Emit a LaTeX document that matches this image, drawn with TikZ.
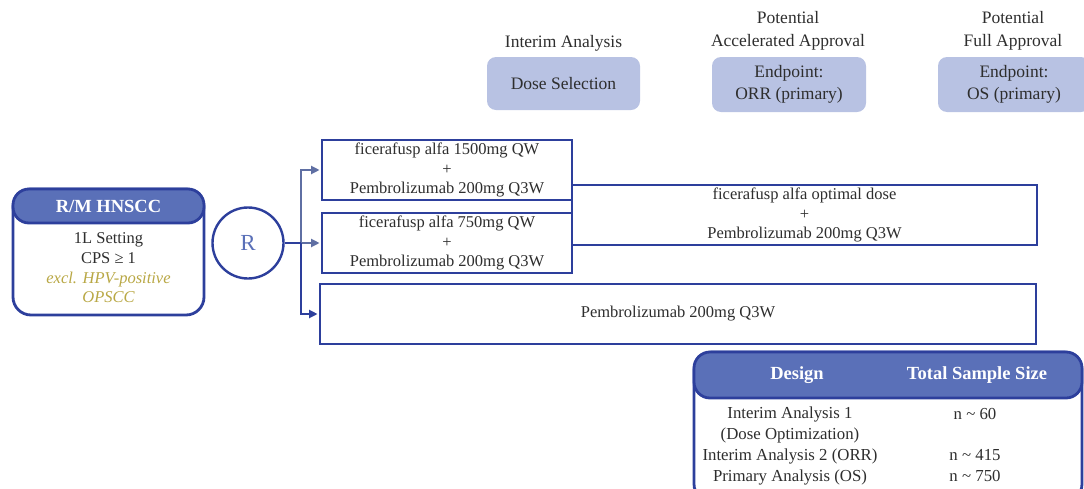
\documentclass[tikz,border=0pt]{standalone}
\usepackage{fontspec}
\setmainfont{Liberation Serif}
\usetikzlibrary{arrows.meta}
\definecolor{bdr}{HTML}{2D3F9C}
\definecolor{hdr}{HTML}{5A70B8}
\definecolor{lav}{HTML}{B8C2E3}
\definecolor{olive}{HTML}{B9A845}
\definecolor{gry}{HTML}{5F6FA3}
\definecolor{txt}{HTML}{2E2E2E}
\newcommand{\bodyfont}{\fontsize{16.5}{19.5}\selectfont}
\newcommand{\topfont}{\fontsize{17.5}{21}\selectfont}
\newcommand{\headfont}{\fontsize{18.5}{21}\selectfont\bfseries}
\begin{document}
\begin{tikzpicture}[x=1pt,y=-1pt,
  armbox/.style={draw=bdr, line width=2.8pt, fill=white, align=center, inner sep=0pt, font=\bodyfont, text=txt},
  lavbox/.style={fill=lav, rounded corners=9pt, align=center, inner sep=0pt, font=\topfont, text=txt},
  lbl/.style={align=center, inner sep=0pt, font=\bodyfont, text=txt},
  toplbl/.style={align=center, inner sep=0pt, font=\topfont, text=txt},
  roundbox/.style={draw=bdr, line width=2.8pt, fill=white, rounded corners=18pt, inner sep=0pt},
  headbox/.style={draw=bdr, line width=2.8pt, fill=hdr, rounded corners=16pt, inner sep=0pt, text=white, font=\headfont},
  dk/.style={draw=bdr, line width=2.8pt},
  gy/.style={draw=gry, line width=2.8pt},
  tip/.style={-{Triangle[length=8.5pt,width=8pt]}, shorten >=1pt}
]
\clip (0,0) rectangle (1084,488);
\useasboundingbox (0,0) rectangle (1084,488);

% top milestone boxes
\node[toplbl] (l1) at (563.5,43) {Interim Analysis};
\node[toplbl] (l2) at (788,31) {Potential\\[2pt]Accelerated Approval};
\node[toplbl] (l3) at (1013,31) {Potential\\[2pt]Full Approval};
\node[lavbox, minimum width=153pt, minimum height=53pt] (m1) at (563.5,83.5) {Dose Selection};
\node[lavbox, minimum width=154pt, minimum height=55pt] (m2) at (789,84.5) {Endpoint:\\[1pt]ORR (primary)};
\node[lavbox, minimum width=152pt, minimum height=55pt] (m3) at (1014,84.5) {Endpoint:\\[1pt]OS (primary)};

% population box
\node[roundbox, minimum width=191pt, minimum height=126pt] (pop) at (108.5,252) {};
\node[headbox, minimum width=191pt, minimum height=34pt] (poph) at (108.5,206) {R/M HNSCC};
\node[lbl, font=\fontsize{16.5}{19.7}\selectfont] (popt) at (108.5,268) {1L Setting\\CPS ≥ 1\\\textcolor{olive}{\itshape excl. HPV-positive}\\\textcolor{olive}{\itshape OPSCC}};

% randomisation
\node[draw=bdr, line width=2.4pt, circle, minimum size=71pt, inner sep=0pt, text=hdr, font=\fontsize{23}{26}\selectfont] (R) at (248,243) {R};

% arms
\node[armbox, minimum width=465pt, minimum height=60pt] (b4) at (804.5,215) {ficerafusp alfa optimal dose\\+\\Pembrolizumab 200mg Q3W};
\node[armbox, minimum width=250pt, minimum height=60pt] (b1) at (447,170) {ficerafusp alfa 1500mg QW\\+\\Pembrolizumab 200mg Q3W};
\node[armbox, minimum width=250pt, minimum height=60pt] (b2) at (447,243) {ficerafusp alfa 750mg QW\\+\\Pembrolizumab 200mg Q3W};
\node[armbox, minimum width=716pt, minimum height=60pt] (b3) at (678,314) {Pembrolizumab 200mg Q3W};

% connectors
\coordinate (br) at (301,243);
\draw[gy, tip] (br) |- (b1.west);
\draw[gy, tip] (br) -- (b2.west);
\draw[dk, tip] (br) |- (b3.west);
\draw[dk] (R.east) -- (br);

% design table
\node[roundbox, minimum width=388pt, minimum height=150pt] (des) at (888,427) {};
\node[headbox, minimum width=388pt, minimum height=46pt] (desh) at (888,375) {};
\node[text=white, font=\headfont, inner sep=0pt] (dh1) at (797,375) {Design};
\node[text=white, font=\headfont, inner sep=0pt] (dh2) at (977,375) {Total Sample Size};
\node[lbl, font=\fontsize{16.8}{20.7}\selectfont] (dl) at (790,446) {Interim Analysis 1\\(Dose Optimization)\\Interim Analysis 2 (ORR)\\Primary Analysis (OS)};
\node[lbl, font=\fontsize{16.8}{20.7}\selectfont] (n1) at (975,414) {n \textasciitilde{} 60};
\node[lbl, font=\fontsize{16.8}{20.7}\selectfont] (n2) at (975,455) {n \textasciitilde{} 415};
\node[lbl, font=\fontsize{16.8}{20.7}\selectfont] (n3) at (975,476) {n \textasciitilde{} 750};
\end{tikzpicture}
\end{document}
